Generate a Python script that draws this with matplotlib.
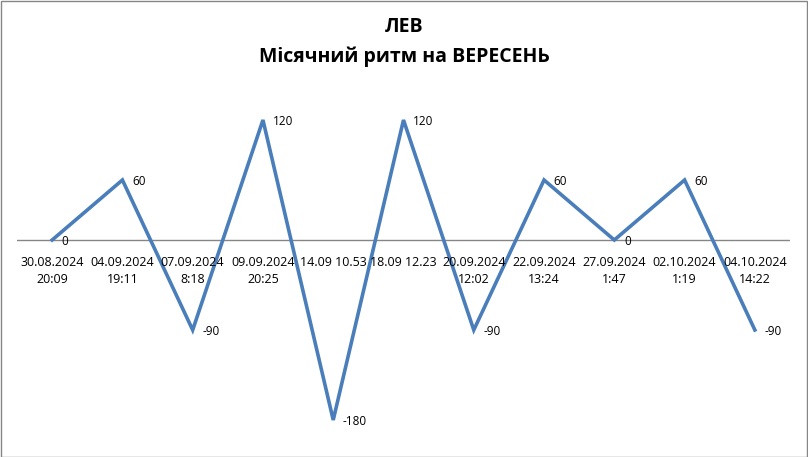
import matplotlib
matplotlib.use("Agg")
import matplotlib.pyplot as plt

plt.rcParams['font.family'] = ['Open Sans', 'DejaVu Sans']

# дати фаз місяця та значення ритму
dates = ['30.08.2024\n20:09', '04.09.2024\n19:11', '07.09.2024\n8:18', '09.09.2024\n20:25',
         '14.09 10.53', '18.09 12.23', '20.09.2024\n12:02', '22.09.2024\n13:24',
         '27.09.2024\n1:47', '02.10.2024\n1:19', '04.10.2024\n14:22']
values = [0, 60, -90, 120, -180, 120, -90, 60, 0, 60, -90]

W, H = 808, 457
fig = plt.figure(figsize=(W / 100, H / 100), dpi=100)
ax = fig.add_axes([17 / W, 1 - 440 / H, (790 - 17) / W, 340 / H])

x = list(range(len(values)))
ax.plot(x, values, color='#4a7ebb', linewidth=2.6, solid_joinstyle='miter')
ax.axhline(0, color='#868686', linewidth=1, zorder=0)

ax.set_xlim(-0.5, len(values) - 0.5)
ax.set_ylim(-200, 140)
ax.axis('off')

for i, (d, v) in enumerate(zip(dates, values)):
    ax.annotate(str(v), (i, v), xytext=(7, -1), textcoords='offset points',
                ha='left', va='center', fontsize=8.5, color='black')
    ax.annotate(d, (i, 0), xytext=(0, -11.5), textcoords='offset points',
                ha='center', va='top', fontsize=9, linespacing=1.45, color='black')

fig.text(0.5, 1 - 27 / H, 'ЛЕВ', ha='center', va='center', fontsize=14, fontweight='bold')
fig.text(0.5, 1 - 57 / H, 'Місячний ритм на ВЕРЕСЕНЬ', ha='center', va='center',
         fontsize=14, fontweight='bold')

# рамка навколо діаграми
fig.patches.append(plt.Rectangle((0.5 / W, 0.5 / H), 1 - 1.5 / W, 1 - 1.5 / H,
                                 transform=fig.transFigure, fill=False,
                                 edgecolor='#868686', linewidth=1))

fig.savefig('out.png', dpi=100, facecolor='white')
